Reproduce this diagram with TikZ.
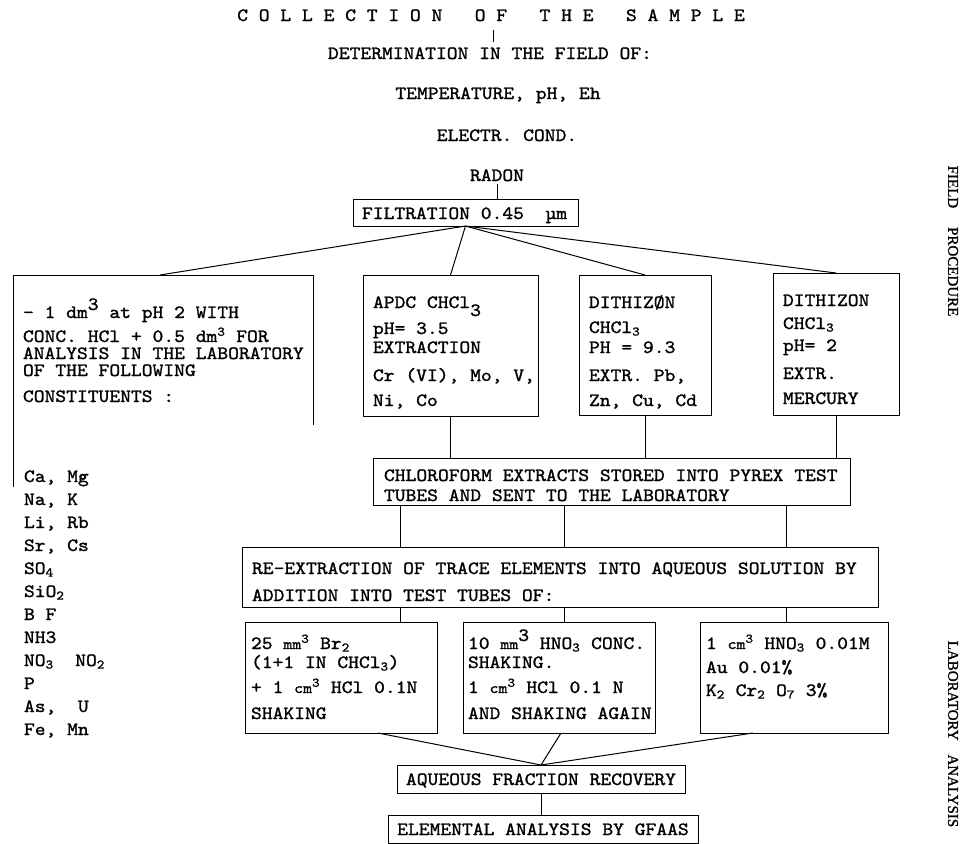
\documentclass[tikz,border=0pt]{standalone}
\usepackage{fontspec}
\setmainfont{Liberation Serif}
\newfontfamily\tw{lmmono10-regular.otf}[FakeStretch=1.1,FakeBold=1.3]
\newfontfamily\sidefont{Liberation Serif}[FakeBold=1.2]
\newcommand{\smu}[1]{{\fontsize{15.5}{16}\selectfont #1}}
\newcommand{\bigsup}[1]{\raisebox{8pt}{#1}}
\newcommand{\bigsub}[1]{\raisebox{-8pt}{#1}}
\tikzset{
  every node/.style={inner sep=0pt, outer sep=0pt},
  box/.style={draw, line width=1pt, anchor=north west, inner sep=0pt},
  txt/.style={font=\tw\fontsize{18.7}{20}\selectfont, anchor=base west},
  txtc/.style={font=\tw\fontsize{18.7}{20}\selectfont, anchor=base},
  side/.style={font=\sidefont\fontsize{15}{16}\selectfont, rotate=-90, anchor=center},
  conn/.style={line width=1pt},
}
\begin{document}
\begin{tikzpicture}[x=1pt, y=-1pt]
\useasboundingbox (0,0) rectangle (978,844);
\fill[white] (0,0) rectangle (978,844);

% ---- field part header texts
\node[txtc] (title) at (491,21) {C O L L E C T I O N\ \ \ O F\ \ \ T H E\ \ \ S A M P L E};
\node[txtc] (det) at (490,59) {DETERMINATION IN THE FIELD OF:};
\node[txtc] (temp) at (498,99) {TEMPERATURE, pH, Eh};
\node[txtc] (elc) at (507,141) {ELECTR. COND.};
\node[txtc] (radon) at (497,181) {RADON};
\coordinate (tk1) at (493,30);
\coordinate (tk2) at (493,42);
\draw[conn] (tk1) -- (tk2);

% ---- filtration
\node[box, minimum width=225pt, minimum height=27pt] (filt) at (353,199) {};
\node[txt] (filtt) at (362,219) {FILTRATION 0.45\ \ µm};
\draw[conn] (radon.south) ++(0,3) coordinate (rd) -- (rd |- filt.north);

% ---- four branches
\coordinate (lbtl) at (13,275);
\coordinate (lbtr) at (313,275);
\coordinate (lbbr) at (313,425);
\coordinate (lbbl) at (13,487);
\coordinate (lbtop) at (160,275);
\draw[conn] (lbbl) -- (lbtl) -- (lbtr) -- (lbbr);

\node[box, minimum width=175pt, minimum height=141pt] (apdc) at (363,275) {};
\node[box, minimum width=132pt, minimum height=140pt] (d1) at (579,275) {};
\node[box, minimum width=126pt, minimum height=142pt] (d2) at (773,273) {};

\draw[conn] (filt.south) -- (lbtop);
\draw[conn] (filt.south) -- (apdc.north);
\draw[conn] (filt.south) -- (d1.north);
\draw[conn] (filt.south) -- (d2.north);

% left box text
\node[txt] (l1) at (23,318) {- 1 dm\bigsup{3} at pH 2 WITH};
\node[txt] (l2) at (23,342) {CONC. HCl + 0.5 dm\textsuperscript{3} FOR};
\node[txt] (l3) at (23,359) {ANALYSIS IN THE LABORATORY};
\node[txt] (l4) at (23,376) {OF THE FOLLOWING};
\node[txt] (l5) at (23,402) {CONSTITUENTS :};

% APDC text
\node[txt] (a1) at (373,308) {APDC CHCl\bigsub{3}};
\node[txt] (a2) at (373,334) {pH= 3.5};
\node[txt] (a3) at (373,353) {EXTRACTION};
\node[txt] (a4) at (373,381) {Cr (VI), Mo, V,};
\node[txt] (a5) at (373,406) {Ni, Co};

% Dithizon 1 text
\node[txt] (p1) at (589,308) {DITHIZØN};
\node[txt] (p2) at (589,333) {CHCl\textsubscript{3}};
\node[txt] (p3) at (589,353) {PH = 9.3};
\node[txt] (p4) at (589,381) {EXTR. Pb,};
\node[txt] (p5) at (589,406) {Zn, Cu, Cd};

% Dithizon 2 text
\node[txt] (q1) at (783,306) {DITHIZON};
\node[txt] (q2) at (783,329) {CHCl\textsubscript{3}};
\node[txt] (q3) at (783,351) {pH= 2};
\node[txt] (q4) at (783,379) {EXTR.};
\node[txt] (q5) at (783,404) {MERCURY};

% element list
\node[txt] (e1) at (24,482) {Ca, Mg};
\node[txt] (e2) at (24,505) {Na, K};
\node[txt] (e3) at (24,528) {Li, Rb};
\node[txt] (e4) at (24,551) {Sr, Cs};
\node[txt] (e5) at (24,574) {SO\textsubscript{4}};
\node[txt] (e6) at (24,597) {SiO\textsubscript{2}};
\node[txt] (e7) at (24,620) {B F};
\node[txt] (e8) at (24,643) {NH3};
\node[txt] (e9) at (24,666) {NO\textsubscript{3}\ \ NO\textsubscript{2}};
\node[txt] (e10) at (24,689) {P};
\node[txt] (e11) at (24,712) {As,\ \ U};
\node[txt] (e12) at (24,735) {Fe, Mn};

% ---- chloroform box
\node[box, minimum width=477pt, minimum height=47pt] (chl) at (373,458) {};
\node[txt] (c1) at (384,481) {CHLOROFORM EXTRACTS STORED INTO PYREX TEST};
\node[txt] (c2) at (384,501) {TUBES AND SENT TO THE LABORATORY};
\draw[conn] (apdc.south) -- (apdc.south |- chl.north);
\draw[conn] (d1.south) -- (d1.south |- chl.north);
\draw[conn] (d2.south) -- (d2.south |- chl.north);

% ---- re-extraction box
\node[box, minimum width=636pt, minimum height=60pt] (rex) at (242,547) {};
\node[txt] (r1) at (252,574) {RE-EXTRACTION OF TRACE ELEMENTS INTO AQUEOUS SOLUTION BY};
\node[txt] (r2) at (252,601) {ADDITION INTO TEST TUBES OF:};
\coordinate (xa) at (400,0);
\coordinate (xb) at (564,0);
\coordinate (xc) at (786,0);
\draw[conn] (xa |- chl.south) -- (xa |- rex.north);
\draw[conn] (xb |- chl.south) -- (xb |- rex.north);
\draw[conn] (xc |- chl.south) -- (xc |- rex.north);

% ---- three reagent boxes
\node[box, minimum width=192pt, minimum height=111pt] (b1) at (245,622) {};
\node[box, minimum width=192pt, minimum height=111pt] (b2) at (463,622) {};
\node[box, minimum width=188pt, minimum height=111pt] (b3) at (700,622) {};
\draw[conn] (xa |- rex.south) -- (xa |- b1.north);
\draw[conn] (xb |- rex.south) -- (xb |- b2.north);
\draw[conn] (xc |- rex.south) -- (xc |- b3.north);

\node[txt] (u1) at (251,649) {25 \smu{mm}\textsuperscript{3} Br\textsubscript{2}};
\node[txt] (u2) at (251,668) {(1+1 IN CHCl\textsubscript{3})};
\node[txt] (u3) at (251,693) {+ 1 \smu{cm}\textsuperscript{3} HCl 0.1N};
\node[txt] (u4) at (251,719) {SHAKING};

\node[txt] (v1) at (468,649) {10 \smu{mm}\bigsup{3} HNO\textsubscript{3} CONC.};
\node[txt] (v2) at (468,668) {SHAKING.};
\node[txt] (v3) at (468,693) {1 \smu{cm}\textsuperscript{3} HCl 0.1 N};
\node[txt] (v4) at (468,719) {AND SHAKING AGAIN};

\node[txt] (w1) at (706,649) {1 \smu{cm}\textsuperscript{3} HNO\textsubscript{3} 0.01M};
\node[txt] (w2) at (706,673) {Au 0.01\%};
\node[txt] (w3) at (706,696) {K\textsubscript{2} Cr\textsubscript{2} O\textsubscript{7} 3\%};

% ---- recovery and analysis
\node[box, minimum width=288pt, minimum height=28pt] (aq) at (397,765) {};
\node[txtc] (aqt) at (aq.center) [yshift=-6pt] {AQUEOUS FRACTION RECOVERY};
\node[box, minimum width=310pt, minimum height=28pt] (el) at (388,815) {};
\node[txtc] (elt) at (el.center) [yshift=-6pt] {ELEMENTAL ANALYSIS BY GFAAS};

\coordinate (xs1) at (378,0);
\coordinate (xs2) at (561,0);
\coordinate (xs3) at (753,0);
\draw[conn] (xs1 |- b1.south) -- (aq.north);
\draw[conn] (xs2 |- b2.south) -- (aq.north);
\draw[conn] (xs3 |- b3.south) -- (aq.north);
\draw[conn] (aq.south) -- (aq.south |- el.north);

% ---- side labels
\node[side] (fp) at (953,241) {FIELD\hspace{19pt}PROCEDURE};
\node[side] (la) at (953,734) {LABORATORY\hspace{14pt}ANALYSIS};
\end{tikzpicture}
\end{document}
